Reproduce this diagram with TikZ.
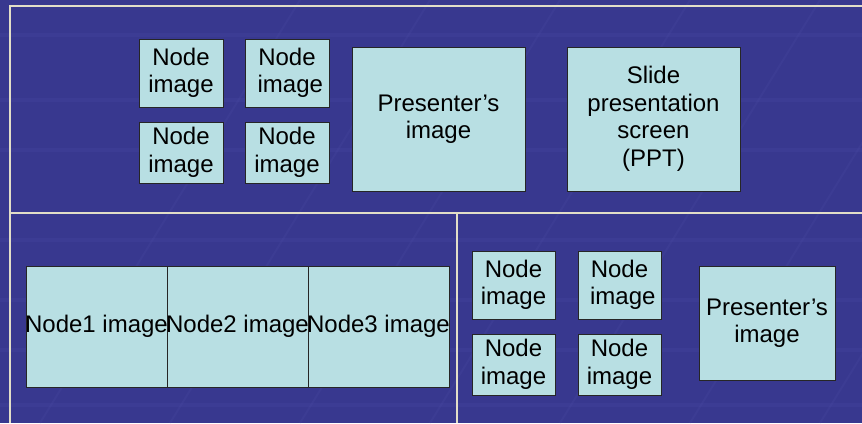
\documentclass[tikz,border=0pt]{standalone}
\usepackage{fontspec}
\setmainfont{Liberation Sans}
\definecolor{bgblue}{HTML}{38388F}
\definecolor{streak}{HTML}{5050A8}
\definecolor{boxfill}{HTML}{B8DFE3}
\definecolor{frameline}{HTML}{E2DEC8}
\tikzset{
  imgbox/.style={draw=black!85, fill=boxfill, line width=0.8pt, inner sep=0pt,
    align=center, font=\fontsize{24}{27.5}\selectfont, text=black},
  frameln/.style={draw=frameline, line width=1.3pt},
  streakln/.style={draw=streak, line width=3pt, opacity=0.35}
}
\begin{document}
\begin{tikzpicture}[x=1pt,y=-1pt]
\useasboundingbox (0,0) rectangle (862,423);
\fill[bgblue] (0,0) rectangle (862,423);
% faint background texture
\foreach \y in {35,100,150,240,300,350,405} {
  \draw[streakln, opacity=0.2, line width=4pt] (0,\y) -- (862,\y);
}
\foreach \x in {40,170,300,430,560,690,820} {
  \draw[streakln, opacity=0.18, line width=2pt] (\x,423) -- (\x+260,0);
}
% frame lines
\coordinate (tl) at (10,6);
\coordinate (tr) at (862,6);
\coordinate (bl) at (10,423);
\coordinate (ml) at (10,213);
\coordinate (mr) at (862,213);
\coordinate (vt) at (457,213);
\coordinate (vb) at (457,423);
\draw[frameln] (bl) -- (tl) -- (tr);
\draw[frameln] (ml) -- (mr);
\draw[frameln] (vt) -- (vb);
% top area
\node[imgbox, minimum width=84, minimum height=68] (a) at (181,73) {Node\\image};
\node[imgbox, minimum width=84, minimum height=68] (b) at (287,73) {Node\\\ image};
\node[imgbox, minimum width=84, minimum height=61] (c) at (181,152.5) {Node\\image};
\node[imgbox, minimum width=84, minimum height=61] (d) at (287,152.5) {Node\\image};
\node[imgbox, minimum width=173, minimum height=144] (p1) at (438.5,119) {Presenter’s\\image};
\node[imgbox, minimum width=173, minimum height=144] (s) at (653.5,119) {Slide\\presentation\\screen\\(PPT)};
% bottom-left strip
\node[imgbox, minimum width=141, minimum height=121] (n1) at (96.5,326.5) {\makebox[0pt]{Node1 image}};
\node[imgbox, minimum width=141, minimum height=121] (n2) at (237.5,326.5) {\makebox[0pt]{Node2 image}};
\node[imgbox, minimum width=141, minimum height=121] (n3) at (378.5,326.5) {\makebox[0pt]{Node3 image}};
% bottom-right
\node[imgbox, minimum width=83, minimum height=68] (e) at (513.5,285) {Node\\image};
\node[imgbox, minimum width=83, minimum height=68] (f) at (619.5,285) {Node\\\ image};
\node[imgbox, minimum width=83, minimum height=61] (g) at (513.5,364.5) {Node\\image};
\node[imgbox, minimum width=83, minimum height=61] (h) at (619.5,364.5) {Node\\image};
\node[imgbox, minimum width=136, minimum height=114] (p2) at (767,323) {Presenter’s\\image};
\end{tikzpicture}
\end{document}
